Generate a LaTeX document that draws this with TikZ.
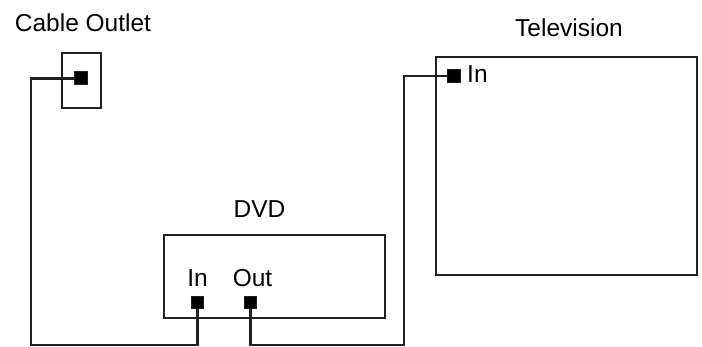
\documentclass[tikz,border=0pt]{standalone}
\usepackage{fontspec}
\setmainfont{Liberation Sans}
\definecolor{ink}{HTML}{231F20}
\begin{document}
\begin{tikzpicture}[x=1pt,y=-1pt,
  box/.style={draw=ink,line width=2.6pt,inner sep=0pt,minimum width=#1},
  port/.style={draw=ink,fill=black,line width=1pt,inner sep=0pt,minimum size=#1},
  port/.default=12pt,
  wire/.style={draw=ink,line width=2.6pt},
  lbl/.style={font=\fontsize{24.5}{28}\selectfont,text=black,inner sep=0pt,anchor=base}]
\useasboundingbox (0,0) rectangle (702,347);
% boxes
\node[box=39pt,minimum height=55pt] (outlet) at (81.5,80.5) {};
\node[box=221pt,minimum height=83pt] (dvd) at (274.5,276.5) {};
\node[box=261pt,minimum height=218pt] (tv) at (566.5,166) {};
% ports
\node[port=13pt] (op) at (80.5,78.5) {};
\node[port] (dvdin) at (197.5,303) {};
\node[port] (dvdout) at (250.5,303) {};
\node[port=13pt] (tvin) at (453.5,76) {};
% labels
\node[lbl] (tout) at (83,32) {Cable Outlet};
\node[lbl] (tdvd) at (259.5,218) {DVD};
\node[lbl] (ttv) at (569,37) {Television};
\node[lbl] (tin) at (197.5,287) {In};
\node[lbl] (tout2) at (252.5,287) {Out};
\node[lbl,anchor=base west] (ttvin) at (467,83) {In};
% wire corners
\coordinate (c1) at (31,78.5);
\coordinate (c2) at (31,345);
\coordinate (c3) at (404,345);
\coordinate (c4) at (404,76);
% wires
\draw[wire] (op.west) -- (c1) -- (c2) -| (dvdin.south);
\draw[wire] (dvdout.south) |- (c3) -- (c4) -- (tvin.west);
\end{tikzpicture}
\end{document}
